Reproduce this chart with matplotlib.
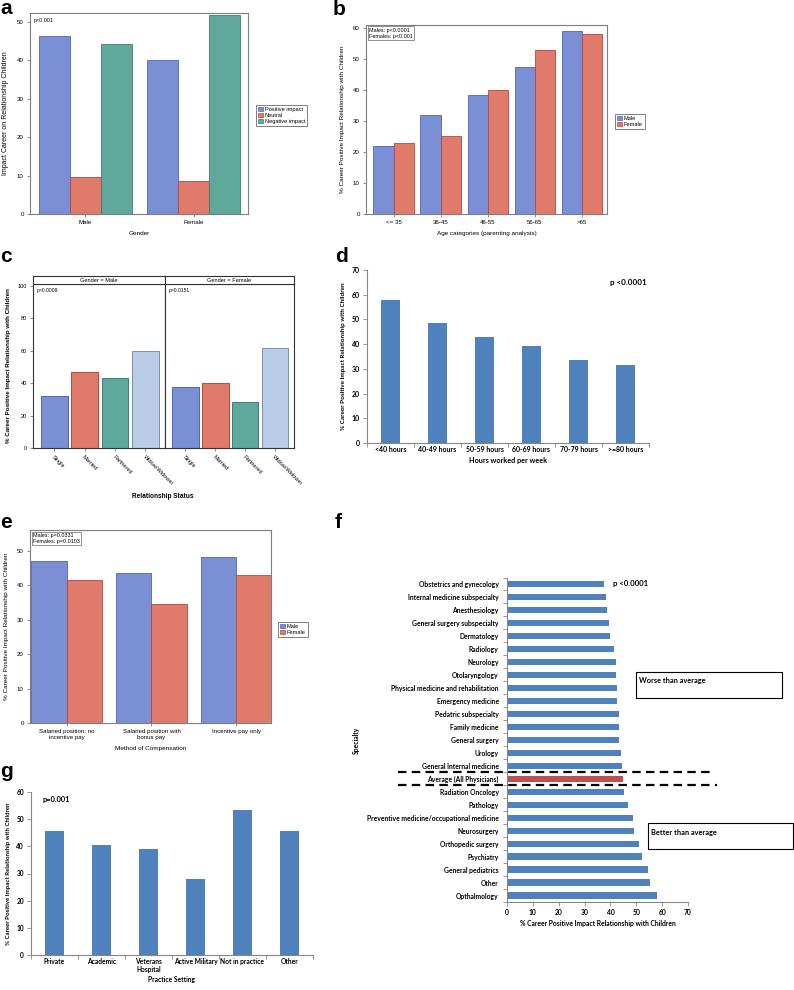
import matplotlib
matplotlib.use("Agg")
from matplotlib import pyplot as plt
from matplotlib.patches import Patch, Rectangle
from matplotlib.lines import Line2D
import matplotlib.transforms as mtransforms
import numpy as np

# ---- data ----
a_groups = ["Male", "Female"]
a_series = ["Positive impact", "Neutral", "Negative impact"]
a_positive = [46.2, 40.0]
a_neutral = [9.7, 8.6]
a_negative = [44.2, 51.8]

b_ages = ["<= 35", "36-45", "46-55", "56-65", ">65"]
b_male = [22.0, 31.9, 38.3, 47.5, 59.2]
b_female = [22.9, 25.1, 40.0, 52.8, 58.0]

c_status = ["Single", "Married", "Partnered", "Widow/Widower"]
c_male = [32.0, 47.0, 43.2, 59.7]
c_female = [37.8, 40.2, 28.2, 62.0]

d_hours = ["<40 hours", "40-49 hours", "50-59 hours", "60-69 hours", "70-79 hours", ">=80 hours"]
d_values = [57.9, 48.5, 43.0, 39.3, 33.6, 31.7]

e_comp = ["Salaried position; no\nincentive pay", "Salaried position with\nbonus pay", "Incentive pay only"]
e_male = [47.0, 43.4, 48.2]
e_female = [41.5, 34.4, 43.0]

f_specialty = ["Obstetrics and gynecology", "Internal medicine subspecialty", "Anesthesiology",
               "General surgery subspecialty", "Dermatology", "Radiology", "Neurology",
               "Otolaryngology", "Physical medicine and rehabilitation", "Emergency medicine",
               "Pedatric subspecialty", "Family medicine", "General surgery", "Urology",
               "General Internal medicine", "Average (All Physicians)", "Radiation Oncology",
               "Pathology", "Preventive medicine/occupational medicine", "Neurosurgery",
               "Orthopedic surgery", "Psychiatry", "General pediatrics", "Other", "Opthalmology"]
f_values = [37.5, 38.2, 38.7, 39.4, 40.0, 41.2, 42.0, 42.2, 42.5, 42.5, 43.4, 43.4, 43.4, 44.2,
            44.6, 44.7, 45.4, 46.9, 48.6, 49.3, 50.9, 52.1, 54.7, 55.2, 57.9]
f_average = "Average (All Physicians)"

g_setting = ["Private", "Academic", "Veterans\nHospital", "Active Military", "Not in practice", "Other"]
g_values = [45.7, 40.4, 39.2, 27.9, 53.5, 45.7]

# ---- style ----
W, H = 794, 990
SAS = "Liberation Sans"
XL = "Lato"
BLUE, BLUE_E = "#7b8fd4", "#4f63b8"
RED, RED_E = "#e07b6c", "#b8473b"
TEAL, TEAL_E = "#5fa89b", "#3c7f72"
LBLUE, LBLUE_E = "#b9cde8", "#7f8ea8"
XBLUE, XRED = "#4f81bd", "#c0504d"
FRAME = "#7f7f7f"


def box(l, t, r, b):
    return [l / W, 1 - b / H, (r - l) / W, (b - t) / H]


def ftext(x, y, s, **kw):
    return fig.text(x / W, 1 - y / H, s, **kw)


def sas_axes(ax, fs=4.4):
    for sp in ax.spines.values():
        sp.set_color(FRAME)
        sp.set_linewidth(0.8)
    ax.tick_params(length=2.5, width=0.6, color=FRAME, labelsize=fs, pad=2)
    for lab in ax.get_xticklabels() + ax.get_yticklabels():
        lab.set_family(SAS)


def excel_axes(ax, fs=5.0):
    ax.spines["top"].set_visible(False)
    ax.spines["right"].set_visible(False)
    for sp in ("left", "bottom"):
        ax.spines[sp].set_color("#868686")
        ax.spines[sp].set_linewidth(0.8)
    ax.tick_params(length=3, width=0.6, color="#868686", labelsize=fs, pad=2)
    for lab in ax.get_xticklabels() + ax.get_yticklabels():
        lab.set_family(XL)
        lab.set_fontweight("bold")


def sas_legend(ax, handles, x, y):
    leg = ax.legend(handles=handles, loc="upper left", bbox_to_anchor=(x / W, 1 - y / H),
                    bbox_transform=fig.transFigure, prop={"family": SAS, "size": 4.1},
                    handlelength=0.9, handleheight=0.9, handletextpad=0.4, borderpad=0.3,
                    labelspacing=0.12, fancybox=False, framealpha=1)
    leg.get_frame().set_edgecolor(FRAME)
    leg.get_frame().set_linewidth(0.7)


fig = plt.figure(figsize=(W / 100, H / 100), dpi=100)
fig.patch.set_facecolor("white")

# panel letters (baseline positions)
for letter, (lx, ly) in zip("abcdefg", [(0, 14), (333, 15), (0, 262), (335, 262),
                                        (0, 528), (335, 528), (0, 777)]):
    ftext(lx, ly, letter, family=SAS, fontsize=15, fontweight="bold", va="baseline", ha="left")

# ---- a ----
ax = fig.add_axes(box(30, 13, 248, 214))
xa = np.arange(len(a_groups))
wa = 0.286
ax.bar(xa - wa, a_positive, wa, color=BLUE, edgecolor=BLUE_E, linewidth=0.6)
ax.bar(xa, a_neutral, wa, color=RED, edgecolor=RED_E, linewidth=0.6)
ax.bar(xa + wa, a_negative, wa, color=TEAL, edgecolor=TEAL_E, linewidth=0.6)
ax.set_xlim(-0.51, 1.5)
ax.set_ylim(0, 52.3)
ax.set_yticks(range(0, 51, 10))
ax.set_xticks(xa)
ax.set_xticklabels(a_groups)
sas_axes(ax)
ax.set_xlabel("Gender", family=SAS, fontsize=4.6, labelpad=4)
ax.set_ylabel("Impact Career on Relationship Children", family=SAS, fontsize=5.0, labelpad=6)
ax.text(0.015, 0.975, "p<0.001", transform=ax.transAxes, family=SAS, fontsize=3.9, va="top")
sas_legend(ax, [Patch(facecolor=c, edgecolor=e, linewidth=0.5, label=s)
                for c, e, s in zip([BLUE, RED, TEAL], [BLUE_E, RED_E, TEAL_E], a_series)], 253, 102)

# ---- b ----
ax = fig.add_axes(box(366, 25, 607, 214))
xb = np.arange(len(b_ages))
wb = 0.43
ax.bar(xb - wb / 2, b_male, wb, color=BLUE, edgecolor=BLUE_E, linewidth=0.6)
ax.bar(xb + wb / 2, b_female, wb, color=RED, edgecolor=RED_E, linewidth=0.6)
ax.set_xlim(-0.586, 4.53)
ax.set_ylim(0, 61)
ax.set_yticks(range(0, 61, 10))
ax.set_xticks(xb)
ax.set_xticklabels(b_ages)
sas_axes(ax)
ax.set_xlabel("Age categories (parenting analysis)", family=SAS, fontsize=4.6, labelpad=4)
ax.set_ylabel("% Career Positive Impact Relationship with Children", family=SAS, fontsize=4.6, labelpad=6)
ax.text(0.012, 0.985, "Males: p<0.0001\nFemales: p<0.001", transform=ax.transAxes, family=SAS,
        fontsize=3.9, va="top", linespacing=1.2,
        bbox=dict(boxstyle="square,pad=0.25", facecolor="white", edgecolor=FRAME, linewidth=0.6))
sas_legend(ax, [Patch(facecolor=BLUE, edgecolor=BLUE_E, linewidth=0.5, label="Male"),
                Patch(facecolor=RED, edgecolor=RED_E, linewidth=0.5, label="Female")], 612, 111)

# ---- c ----
c_cols = [BLUE, RED, TEAL, LBLUE]
c_edges = [BLUE_E, RED_E, TEAL_E, LBLUE_E]
xc = np.arange(len(c_status))
for i, (vals, title, p, (l, r)) in enumerate(zip([c_male, c_female], ["Gender = Male", "Gender = Female"],
                                              ["p=0.0009", "p=0.0151"], [(33, 164.7), (164.7, 294)])):
    ax = fig.add_axes(box(l, 284, r, 448))
    ax.bar(xc, vals, 0.885, color=c_cols, edgecolor=c_edges, linewidth=0.7)
    ax.set_xlim(-0.69, 3.63)
    ax.set_ylim(0, 101.2)
    ax.set_yticks(range(0, 101, 20))
    ax.set_xticks(xc)
    ax.set_xticklabels(c_status, rotation=-45, ha="left", rotation_mode="anchor")
    sas_axes(ax, fs=4.1)
    for sp in ax.spines.values():
        sp.set_color("#333333")
    if i == 1:
        ax.tick_params(axis="y", left=False, labelleft=False)
    ax.text(0.03, 0.975, p, transform=ax.transAxes, family=SAS, fontsize=3.6, va="top")
    hx = fig.add_axes(box(l, 276, r, 284))
    hx.set_xticks([])
    hx.set_yticks([])
    for sp in hx.spines.values():
        sp.set_color("#333333")
        sp.set_linewidth(0.8)
    hx.text(0.5, 0.45, title, transform=hx.transAxes, ha="center", va="center", family=SAS, fontsize=4.1)
ftext(163, 497, "Relationship Status", family=SAS, fontsize=4.7, fontweight="bold", ha="center", va="center")
ftext(9, 366, "% Career Positive Impact Relationship with Children", family=SAS, fontsize=4.5,
      fontweight="bold", rotation=90, ha="center", va="center")

# ---- d ----
ax = fig.add_axes(box(367, 270, 649, 443))
xd = np.arange(len(d_hours))
ax.bar(xd, d_values, 0.4, color=XBLUE)
ax.set_xlim(-0.5, len(d_hours) - 0.5)
ax.set_ylim(0, 70)
ax.set_yticks(range(0, 71, 10))
ax.set_xticks(xd)
ax.set_xticklabels(d_hours)
ax.set_xticks(np.arange(len(d_hours) + 1) - 0.5, minor=True)
excel_axes(ax)
ax.tick_params(axis="x", which="major", length=0)
ax.tick_params(axis="x", which="minor", length=3, width=0.6, color="#868686")
ax.set_xlabel("Hours worked per week", family=XL, fontweight="bold", fontsize=5.2, labelpad=3)
ax.set_ylabel("% Career Positive Impact Relationship with Children", family=XL, fontweight="bold",
              fontsize=4.6, labelpad=4)
ftext(610, 283, "p <0.0001", family=XL, fontweight="bold", fontsize=5.8, va="center")

# ---- e ----
ax = fig.add_axes(box(30, 530, 271, 723))
xe = np.arange(len(e_comp))
we = 0.42
ax.bar(xe - we / 2, e_male, we, color=BLUE, edgecolor=BLUE_E, linewidth=0.6)
ax.bar(xe + we / 2, e_female, we, color=RED, edgecolor=RED_E, linewidth=0.6)
ax.set_xlim(-0.433, 2.41)
ax.set_ylim(0, 56)
ax.set_yticks(range(0, 51, 10))
ax.set_xticks(xe)
ax.set_xticklabels(e_comp)
sas_axes(ax)
ax.set_xlabel("Method of Compensation", family=SAS, fontsize=4.6, labelpad=4)
ax.set_ylabel("% Career Positive Impact Relationship with Children", family=SAS, fontsize=4.6, labelpad=6)
ax.text(0.012, 0.985, "Males: p=0.0331\nFemales: p=0.0103", transform=ax.transAxes, family=SAS,
        fontsize=3.9, va="top", linespacing=1.2,
        bbox=dict(boxstyle="square,pad=0.25", facecolor="white", edgecolor=FRAME, linewidth=0.6))
sas_legend(ax, [Patch(facecolor=BLUE, edgecolor=BLUE_E, linewidth=0.5, label="Male"),
                Patch(facecolor=RED, edgecolor=RED_E, linewidth=0.5, label="Female")], 275, 619)

# ---- f ----
ax = fig.add_axes(box(507, 577.5, 688, 902.2))
yf = np.arange(len(f_specialty))
f_cols = [XRED if s == f_average else XBLUE for s in f_specialty]
ax.barh(yf, f_values, 0.5, color=f_cols)
ax.set_ylim(len(f_specialty) - 0.5, -0.5)
ax.set_xlim(0, 70)
ax.set_xticks(range(0, 71, 10))
ax.set_yticks(yf)
ax.set_yticklabels(f_specialty, family=XL, fontweight="bold")
ax.set_yticks(np.arange(len(f_specialty) + 1) - 0.5, minor=True)
excel_axes(ax, fs=4.9)
ax.tick_params(axis="y", which="major", length=0, pad=6)
ax.tick_params(axis="y", which="minor", length=3, width=0.6, color="#868686")
ax.set_xlabel("% Career Positive Impact Relationship with Children", family=XL, fontweight="bold",
              fontsize=4.9, labelpad=3)
ftext(356, 740, "Specialty", family=XL, fontweight="bold", fontsize=4.9, rotation=90, ha="center", va="center")
ax.text(0.585, 0.982, "p <0.0001", transform=ax.transAxes, family=XL, fontweight="bold", fontsize=5.6, va="center")
# dashed separators around the average row
avg_i = f_specialty.index(f_average)
tr = mtransforms.blended_transform_factory(fig.transFigure, ax.transData)
for yy, x2 in [(avg_i - 0.5, 714), (avg_i + 0.5, 717)]:
    fig.add_artist(Line2D([398 / W, x2 / W], [yy, yy], transform=tr, color="black", lw=1.6,
                          ls=(0, (3.8, 2.4))))
for (l, t, r, b), lab in [((636, 672, 781.7, 698), "Worse than average"),
                          ((648, 823, 793, 849), "Better than average")]:
    fig.add_artist(Rectangle((l / W, 1 - b / H), (r - l) / W, (b - t) / H, transform=fig.transFigure,
                             facecolor="white", edgecolor="black", linewidth=0.8))
    ftext(l + 3, t + 9, lab, family=XL, fontsize=5.3, fontweight="bold", va="center")

# ---- g ----
ax = fig.add_axes(box(31, 792, 313, 955))
xg = np.arange(len(g_setting))
ax.bar(xg, g_values, 0.39, color=XBLUE)
ax.set_xlim(-0.5, len(g_setting) - 0.5)
ax.set_ylim(0, 60)
ax.set_yticks(range(0, 61, 10))
ax.set_xticks(xg)
ax.set_xticklabels(g_setting)
ax.set_xticks(np.arange(len(g_setting) + 1) - 0.5, minor=True)
excel_axes(ax, fs=4.8)
ax.tick_params(axis="x", which="major", length=0)
ax.tick_params(axis="x", which="minor", length=3, width=0.6, color="#868686")
ax.set_xlabel("Practice Setting", family=XL, fontweight="bold", fontsize=4.8, labelpad=2)
ax.set_ylabel("% Career Positive Impact Relationship with Children", family=XL, fontweight="bold",
              fontsize=4.4, labelpad=4)
ax.text(0.04, 0.955, "p=0.001", transform=ax.transAxes, family=XL, fontweight="bold", fontsize=5.4, va="center")

fig.savefig("out.png", dpi=100, facecolor="white")
